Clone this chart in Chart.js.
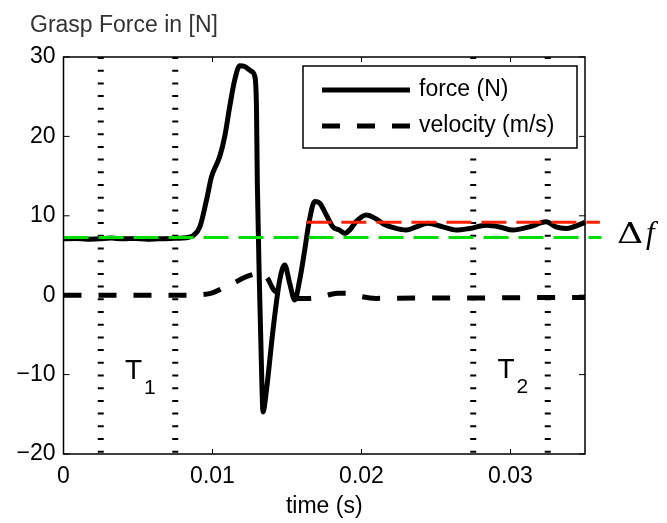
<!DOCTYPE html>
<html><head><meta charset="utf-8">
<script src="https://cdn.jsdelivr.net/npm/chart.js@4/dist/chart.umd.min.js"></script>
<style>html,body{margin:0;padding:0;background:#fff;}#wrap{width:667px;height:523px;}</style>
</head><body><div id="wrap"><canvas id="c" width="667" height="523"></canvas></div>
<script>
const forceTime = [0,0.0008,0.0016,0.0024,0.0032,0.004,0.0048,0.0056,0.0064,0.0072,0.008,0.0084,0.0087,0.00915,0.0096,0.00993,0.01049,0.01082,0.01116,0.01149,0.01183,0.01216,0.01261,0.01283,0.01295,0.01301,0.01317,0.01328,0.01339,0.01362,0.01406,0.01451,0.01485,0.01518,0.01552,0.01585,0.01619,0.01648,0.01686,0.01719,0.01764,0.01808,0.01853,0.01887,0.0192,0.01965,0.02032,0.02099,0.02155,0.02215,0.023,0.02367,0.02445,0.02546,0.02635,0.02725,0.02836,0.02926,0.03015,0.03127,0.03239,0.03305,0.03373,0.03484,0.035];
const forceValues = [7.1,7.15,7.05,7.1,7.2,7.1,7.15,7.05,7.1,7.15,7.2,7.3,7.5,8.6,12.0,14.9,17.5,20.0,23.8,27.1,28.9,28.8,28.2,27.6,23.8,14,-0.2,-8.6,-14.7,-12.0,-4.4,1.9,3.8,1.5,-0.6,1.9,5.7,9.2,11.8,11.6,10.1,8.6,8.2,7.8,8.2,9.3,10.1,9.6,8.9,8.5,8.2,8.6,9.05,8.6,8.2,8.4,8.8,8.6,8.2,8.6,9.25,8.6,8.4,9.05,9.2];
const velocityTime = [0,0.002,0.004,0.006,0.008,0.0092,0.01,0.0107,0.0114,0.0121,0.0128,0.0133,0.0137,0.0141,0.0147,0.0155,0.0165,0.0174,0.0184,0.0191,0.0199,0.021,0.024,0.028,0.032,0.035];
const velocityValues = [0,0,0,0,0,0.05,0.3,0.9,1.5,2.2,2.65,2.75,2.1,0.7,0,-0.4,-0.4,-0.15,0.25,0.25,-0.15,-0.4,-0.35,-0.35,-0.3,-0.3];
const xTickValues = [0,0.01,0.02,0.03];
const yTickValues = [-20,-10,0,10,20,30];
const markerTimes = [0.0025,0.0075,0.0275,0.0325];
const baselineForce = 7.28;
const steadyForce = 9.2;
const baselineSpan = [0, 0.0361];
const steadySpan = [0.0163, 0.036];
const seriesLabels = ['force (N)','velocity (m/s)'];

const pts = (xs, ys) => xs.map((x,i)=>({x:x,y:ys[i]}));
const FONT = '"Liberation Sans", Arial, sans-serif';

const datasets = [
  {label:'baseline', data:pts(baselineSpan,[baselineForce,baselineForce]), borderColor:'#00e000', borderWidth:3, borderDash:[25,10], clip:false},
  {label:'steady', data:pts(steadySpan,[steadyForce,steadyForce]), borderColor:'#ff2000', borderWidth:3, borderDash:[25,10], clip:false},
  {label:seriesLabels[0], data:pts(forceTime,forceValues), borderColor:'#000', borderWidth:5, cubicInterpolationMode:'monotone', clip:false},
  {label:seriesLabels[1], data:pts(velocityTime,velocityValues), borderColor:'#000', borderWidth:5, borderDash:[18,17], cubicInterpolationMode:'monotone', clip:false}
];
markerTimes.forEach(t=>datasets.push({label:'marker', data:pts([t,t],[30,-20]), borderColor:'#000', borderWidth:6, borderDash:[2,10.7], clip:false}));
datasets.forEach(d=>{d.pointRadius=0; d.borderCapStyle='butt'; d.borderJoinStyle='round'; d.fill=false;});

const deco = {
  id:'deco',
  afterDraw(chart){
    const ctx = chart.ctx, a = chart.chartArea, xs = chart.scales.x, ys = chart.scales.y;
    ctx.save();
    ctx.strokeStyle='#000'; ctx.lineWidth=1.5;
    ctx.strokeRect(a.left, a.top, a.right-a.left, a.bottom-a.top);
    ctx.lineWidth=1;
    ctx.beginPath();
    xTickValues.forEach(v=>{const p=xs.getPixelForValue(v); ctx.moveTo(p,a.bottom); ctx.lineTo(p,a.bottom-5); ctx.moveTo(p,a.top); ctx.lineTo(p,a.top+5);});
    yTickValues.forEach(v=>{const p=ys.getPixelForValue(v); ctx.moveTo(a.left,p); ctx.lineTo(a.left+6,p); ctx.moveTo(a.right,p); ctx.lineTo(a.right-6,p);});
    ctx.stroke();
    ctx.fillStyle='#333'; ctx.font='23px '+FONT; ctx.textAlign='left'; ctx.textBaseline='alphabetic';
    ctx.fillText('Grasp Force in [N]', 30, 32);
    ctx.fillStyle='#000';
    const tl = (x,y,sub)=>{const px=xs.getPixelForValue(x), py=ys.getPixelForValue(y);
      ctx.font='28px '+FONT; ctx.fillText('T',px,py); ctx.font='21px '+FONT; ctx.fillText(sub,px+19,py+15);};
    tl(0.00413,-10.5,'1'); tl(0.02913,-10.4,'2');
    // delta f
    const dy = ys.getPixelForValue((baselineForce+steadyForce)/2)+13;
    ctx.save();
    ctx.translate(617, dy); ctx.scale(1.3, 1);
    ctx.font='28px "DejaVu Serif", "Liberation Serif", serif'; ctx.fillText('\u0394', 0, 0);
    ctx.restore();
    ctx.font='italic 31px "Liberation Serif", "DejaVu Serif", serif'; ctx.fillText('f', 646, dy);
    // legend
    const L=303,T=66,R=577,B=148;
    ctx.fillStyle='#fff'; ctx.fillRect(L,T,R-L,B-T);
    ctx.strokeStyle='#000'; ctx.lineWidth=1.5; ctx.strokeRect(L,T,R-L,B-T);
    ctx.lineWidth=5; ctx.lineCap='butt';
    ctx.beginPath(); ctx.moveTo(322,90); ctx.lineTo(410,90); ctx.stroke();
    ctx.setLineDash([18,17]); ctx.beginPath(); ctx.moveTo(322,126); ctx.lineTo(410,126); ctx.stroke(); ctx.setLineDash([]);
    ctx.fillStyle='#000'; ctx.font='23px '+FONT; ctx.textBaseline='middle';
    ctx.fillText(seriesLabels[0], 419, 90); ctx.fillText(seriesLabels[1], 419, 126);
    ctx.restore();
  }
};

new Chart(document.getElementById('c'), {
  type:'line',
  data:{datasets:datasets},
  options:{
    responsive:false, animation:false, devicePixelRatio:1,
    layout:{padding:{top:57,right:82,left:0,bottom:0}},
    plugins:{legend:{display:false}, tooltip:{enabled:false}},
    scales:{
      x:{type:'linear', min:0, max:0.035,
        afterBuildTicks:s=>{s.ticks=xTickValues.map(v=>({value:v}));},
        afterFit:s=>{s.height=69;},
        grid:{display:false, drawTicks:false}, border:{display:false},
        ticks:{color:'#000', font:{family:FONT,size:23}, padding:9, maxRotation:0, autoSkip:false,
          callback:v=>v===0?'0':String(+v.toFixed(3))},
        title:{display:true, text:'time (s)', color:'#000', font:{family:FONT,size:23}, padding:{top:0,bottom:3}}
      },
      y:{type:'linear', min:-20, max:30,
        afterBuildTicks:s=>{s.ticks=yTickValues.map(v=>({value:v}));},
        afterFit:s=>{s.width=63.5;},
        grid:{display:false, drawTicks:false}, border:{display:false},
        ticks:{color:'#000', font:{family:FONT,size:23}, padding:8, autoSkip:false,
          callback:v=>v<0?'\u2212'+Math.abs(v):String(v)}
      }
    }
  },
  plugins:[deco]
});
</script></body></html>
